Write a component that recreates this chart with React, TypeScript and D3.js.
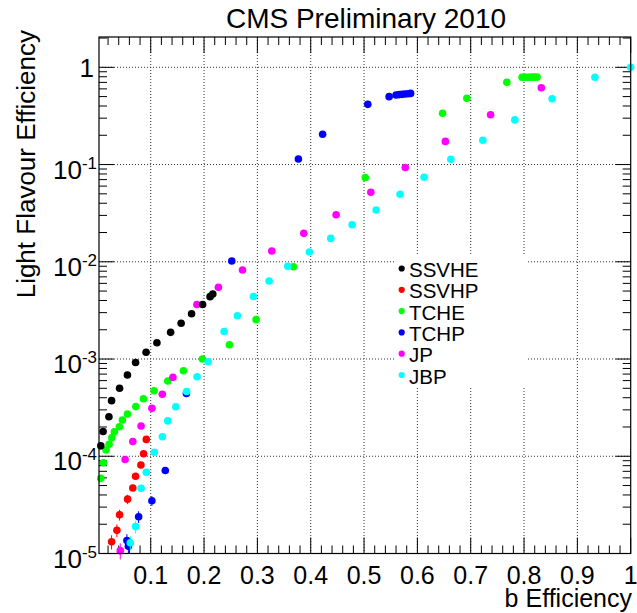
import React from "react";
import * as d3 from "d3";

type Pt = [number, number, number?];

const SSVHE: Pt[] = [
  [0.0064, 1.28e-4], [0.0107, 1.8e-4], [0.0216, 2.55e-4], [0.0266, 3.73e-4],
  [0.0416, 5.0e-4], [0.0563, 6.85e-4], [0.0716, 9.2e-4], [0.0913, 1.175e-3],
  [0.1116, 1.47e-3], [0.1373, 1.88e-3], [0.157, 2.33e-3], [0.1766, 2.92e-3],
  [0.1973, 3.64e-3], [0.2113, 4.38e-3], [0.2164, 4.66e-3],
];

const SSVHP: Pt[] = [
  [0.0266, 1.32e-5, 2.2e-6], [0.0366, 1.73e-5, 2.6e-6], [0.0416, 2.5e-5, 3.2e-6],
  [0.0566, 3.62e-5, 4e-6], [0.0664, 4.72e-5], [0.0716, 6.24e-5],
  [0.0816, 8.13e-5], [0.0866, 1.06e-4], [0.0917, 1.49e-4],
];

const TCHE: Pt[] = [
  [0.0064, 5.93e-5], [0.0113, 8.59e-5], [0.0163, 1.16e-4], [0.0219, 1.33e-4],
  [0.027, 1.55e-4], [0.0319, 1.79e-4], [0.0413, 2.01e-4], [0.0469, 2.36e-4],
  [0.0563, 2.72e-4], [0.072, 3.24e-4], [0.0863, 3.91e-4], [0.1063, 4.72e-4],
  [0.132, 5.94e-4], [0.1613, 7.58e-4], [0.1969, 1.0e-3], [0.2475, 1.4e-3],
  [0.2976, 2.54e-3], [0.3675, 8.9e-3], [0.5023, 0.0736], [0.6473, 0.337],
  [0.6927, 0.48], [0.7677, 0.703], [0.7964, 0.789], [0.802, 0.79],
  [0.8076, 0.791], [0.8133, 0.792], [0.8189, 0.792], [0.8245, 0.793],
];

const TCHP: Pt[] = [
  [0.0553, 1.36e-5, 2.2e-6], [0.0581, 1.19e-5, 2e-6], [0.0773, 2.39e-5, 3.3e-6],
  [0.1022, 3.49e-5, 4e-6], [0.1273, 7.14e-5], [0.1669, 4.42e-4],
  [0.252, 1.02e-2], [0.3769, 0.114], [0.4223, 0.205], [0.507, 0.416],
  [0.547, 0.499], [0.56, 0.519], [0.5657, 0.524], [0.5714, 0.527],
  [0.577, 0.531], [0.5826, 0.535], [0.5873, 0.539],
];

const JP: Pt[] = [
  [0.0429, 1.07e-5, 2e-6], [0.0519, 9.27e-5], [0.0664, 1.42e-4], [0.0819, 2.05e-4],
  [0.1022, 3.11e-4], [0.1217, 4.34e-4], [0.1416, 6.48e-4], [0.1866, 3.64e-3],
  [0.2269, 5.47e-3], [0.2721, 8.23e-3], [0.327, 1.29e-2], [0.387, 1.96e-2],
  [0.4476, 3.05e-2], [0.5127, 5.19e-2], [0.5773, 9.33e-2], [0.6525, 0.173],
  [0.7373, 0.325], [0.8324, 0.617],
];

const JBP: Pt[] = [
  [0.0617, 1.29e-5, 2.2e-6], [0.0716, 1.89e-5, 2.8e-6], [0.0819, 4.68e-5],
  [0.0917, 6.85e-5], [0.1067, 1.1e-4], [0.1219, 1.59e-4], [0.132, 2.31e-4],
  [0.147, 3.23e-4], [0.1673, 4.63e-4], [0.1869, 6.58e-4], [0.2076, 9.38e-4],
  [0.2376, 1.92e-3], [0.2625, 2.79e-3], [0.2925, 4.4e-3], [0.322, 6.34e-3],
  [0.357, 9.01e-3], [0.3975, 1.26e-2], [0.4376, 1.74e-2], [0.4776, 2.4e-2],
  [0.5226, 3.41e-2], [0.5676, 4.95e-2], [0.6126, 7.39e-2], [0.6627, 0.1135],
  [0.7227, 0.178], [0.7827, 0.288], [0.8526, 0.475], [0.9329, 0.789], [1.0, 1.0],
];

const LEGEND_NAMES = ["SSVHE", "SSVHP", "TCHE", "TCHP", "JP", "JBP"];
const LEGEND_COLORS = ["#000000", "#ff0000", "#00ff00", "#0000ff", "#ff00ff", "#00ffff"];

// draw order (black last)
const DRAW_SERIES: { data: Pt[]; color: string }[] = [
  { data: SSVHP, color: "#ff0000" },
  { data: TCHE, color: "#00ff00" },
  { data: TCHP, color: "#0000ff" },
  { data: JP, color: "#ff00ff" },
  { data: JBP, color: "#00ffff" },
  { data: SSVHE, color: "#000000" },
];

const X_TICKS = [0.1, 0.2, 0.3, 0.4, 0.5, 0.6, 0.7, 0.8, 0.9, 1];
const X_TICK_LABELS = ["0.1", "0.2", "0.3", "0.4", "0.5", "0.6", "0.7", "0.8", "0.9", "1"];
const Y_EXPONENTS = [-5, -4, -3, -2, -1, 0];

const FONT = "'Liberation Sans', Arial, Helvetica, sans-serif";

export default function App() {
  const W = 637, H = 613;
  const L = 99, R = 630.7, T = 37, B = 553.5;
  const x = d3.scaleLinear().domain([0.003, 1]).range([L, R]);
  const y = d3.scaleLog().domain([1e-5, 2.05]).range([B, T]);

  const xMinor: number[] = d3.range(1, 50).map((i) => i * 0.02).filter((v) => v > 0.003 && v < 1 && Math.abs(v * 10 - Math.round(v * 10)) > 1e-6);
  const yMinor: number[] = [];
  for (let e = -5; e <= 0; e++) {
    for (let m = 2; m <= 9; m++) {
      const v = m * Math.pow(10, e);
      if (v <= 2.05) yMinor.push(v);
    }
  }
  const gridStyle = { stroke: "#333", strokeWidth: 1, strokeDasharray: "1,2" };

  // legend box
  const lgX0 = 395, lgX1 = 526, lgY0 = 255, lgY1 = 388;
  const lgRow0 = 268.5, lgDy = 21.3;

  return (
    <svg width={W} height={H} style={{ position: "absolute", left: 0, top: 0, background: "#fff" }} fontFamily={FONT}>
      <rect x={0} y={0} width={W} height={H} fill="#fff" />
      {/* grid */}
      {X_TICKS.filter((v) => v < 1).map((v) => (
        <line key={"gx" + v} x1={x(v)} x2={x(v)} y1={T} y2={B} {...gridStyle} />
      ))}
      {Y_EXPONENTS.filter((e) => e > -5).map((e) => (
        <line key={"gy" + e} x1={L} x2={R} y1={y(Math.pow(10, e))} y2={y(Math.pow(10, e))} {...gridStyle} />
      ))}
      {/* ticks */}
      {X_TICKS.map((v) => (
        <g key={"xt" + v}>
          <line x1={x(v)} x2={x(v)} y1={B} y2={B - 16} stroke="#000" />
          <line x1={x(v)} x2={x(v)} y1={T} y2={T + 16} stroke="#000" />
        </g>
      ))}
      {xMinor.map((v) => (
        <g key={"xm" + v}>
          <line x1={x(v)} x2={x(v)} y1={B} y2={B - 8} stroke="#000" />
          <line x1={x(v)} x2={x(v)} y1={T} y2={T + 8} stroke="#000" />
        </g>
      ))}
      {Y_EXPONENTS.map((e) => (
        <g key={"yt" + e}>
          <line x1={L} x2={L + 15} y1={y(Math.pow(10, e))} y2={y(Math.pow(10, e))} stroke="#000" />
          <line x1={R} x2={R - 15} y1={y(Math.pow(10, e))} y2={y(Math.pow(10, e))} stroke="#000" />
        </g>
      ))}
      {yMinor.map((v) => (
        <g key={"ym" + v}>
          <line x1={L} x2={L + 8} y1={y(v)} y2={y(v)} stroke="#000" />
          <line x1={R} x2={R - 8} y1={y(v)} y2={y(v)} stroke="#000" />
        </g>
      ))}
      {/* data */}
      {DRAW_SERIES.map((s, si) => (
        <g key={"s" + si} fill={s.color} stroke={s.color}>
          {s.data.map((p, i) => (
            <g key={i}>
              {p[2] !== undefined && (
                <line x1={x(p[0])} x2={x(p[0])} y1={y(Math.max(p[1] - (p[2] as number), 1e-6))} y2={y(p[1] + (p[2] as number))} strokeWidth={1} />
              )}
              <circle cx={x(p[0])} cy={y(p[1])} r={3.8} stroke="none" />
            </g>
          ))}
        </g>
      ))}
      {/* legend */}
      <rect x={lgX0} y={lgY0} width={lgX1 - lgX0} height={lgY1 - lgY0} fill="#fff" />
      {LEGEND_NAMES.map((n, i) => (
        <g key={n}>
          <circle cx={401.7} cy={lgRow0 + i * lgDy} r={3.1} fill={LEGEND_COLORS[i]} />
          <text x={409} y={lgRow0 + i * lgDy + 8.5} fontSize={20.5} fill="#000">{n}</text>
        </g>
      ))}
      {/* frame */}
      <rect x={L} y={T} width={R - L} height={B - T} fill="none" stroke="#000" strokeWidth={1.2} />
      {/* tick labels */}
      {X_TICKS.map((v, i) => (
        <text key={"xl" + v} x={x(v)} y={584} fontSize={25} textAnchor="middle" fill="#000">{X_TICK_LABELS[i]}</text>
      ))}
      {Y_EXPONENTS.map((e) =>
        e === 0 ? (
          <text key={"yl" + e} x={94} y={y(1) + 9.5} fontSize={26} textAnchor="end" fill="#000">1</text>
        ) : (
          <text key={"yl" + e} x={97} y={y(Math.pow(10, e)) + 14} fontSize={26} textAnchor="end" fill="#000">
            10<tspan fontSize={17} dy={-10}>{String(e)}</tspan>
          </text>
        )
      )}
      {/* titles */}
      <text x={366} y={28} fontSize={28} textAnchor="middle" fill="#000">CMS Preliminary 2010</text>
      <text x={632} y={607} fontSize={25} textAnchor="end" fill="#000">b Efficiency</text>
      <text transform="translate(35,30) rotate(-90)" fontSize={26} textAnchor="end" fill="#000">Light Flavour Efficiency</text>
    </svg>
  );
}
